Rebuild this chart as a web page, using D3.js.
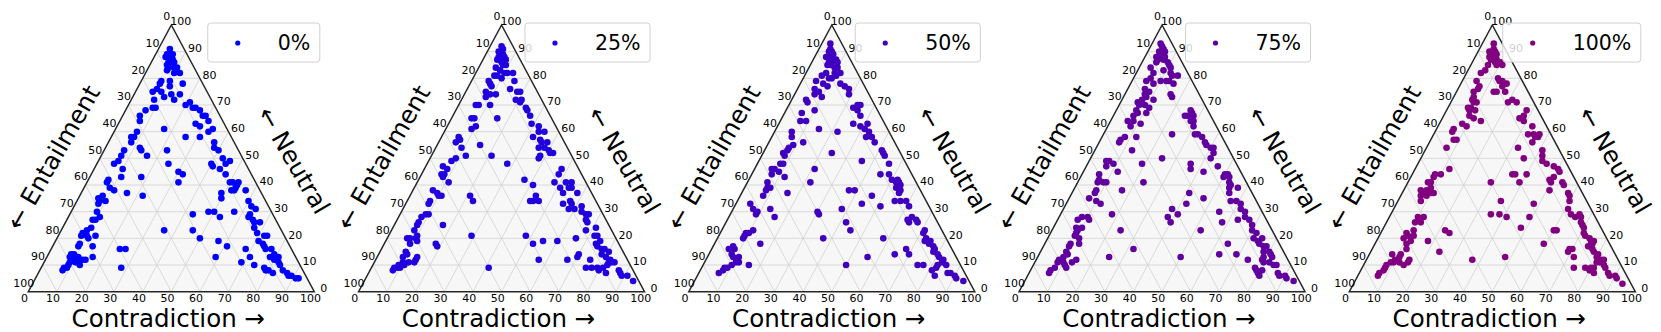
<!DOCTYPE html>
<html><head><meta charset="utf-8">
<script src="https://cdn.jsdelivr.net/npm/d3@7"></script>
<style>body{margin:0;background:#fff}svg{display:block}text{font-family:"DejaVu Sans",sans-serif;fill:#000}</style>
</head><body>
<svg id="c" width="1661" height="332"></svg>
<script>
const seriesNames = ["0%","25%","50%","75%","100%"];
const seriesColors = ["#0000ff","#2000df","#4000bf","#60009f","#800080"];
const tickValues = [0,10,20,30,40,50,60,70,80,90,100];
const titleBottom = "Contradiction \u2192";
const titleLeft = "\u2190 Entailment";
const titleRight = "\u2190 Neutral";

// each point: [contradiction %, neutral %]  (entailment = 100 - c - n)
const s0 = [[4,91],[5,89],[4,89],[6,89],[4,88],[6,87],[7,87],[6,86],[7,86],[8,86],[6,85],[7,84],[9,84],[10,84],[7,83],[12,82],[10,82],[7,79],[7,78],[10,79],[11,77],[15,78],[7,76],[9,75],[6,75],[11,73],[13,74],[16,74],[8,72],[10,69],[9,69],[15,72],[20,70],[21,71],[23,69],[24,69],[26,68],[7,68],[6,66],[7,64],[28,66],[29,66],[27,63],[29,62],[31,64],[34,61],[33,60],[31,58],[26,58],[17,61],[8,60],[8,58],[7,58],[8,56],[12,54],[13,53],[16,51],[7,53],[7,51],[7,49],[22,53],[25,48],[30,45],[32,44],[32,41],[18,43],[10,46],[11,43],[6,48],[7,42],[7,41],[9,39],[11,38],[8,36],[8,34],[7,35],[10,34],[8,33],[9,30],[16,37],[22,36],[37,56],[38,54],[40,53],[43,50],[45,48],[46,49],[40,48],[41,47],[44,46],[47,44],[50,41],[51,41],[53,39],[53,40],[53,41],[52,38],[53,38],[57,38],[50,35],[49,37],[60,34],[62,32],[64,31],[63,29],[63,28],[65,27],[66,26],[68,26],[50,30],[48,30],[53,28],[57,30],[43,29],[46,23],[50,20],[57,19],[61,17],[59,13],[68,16],[71,13],[69,11],[74,10],[71,19],[72,21],[73,21],[73,18],[74,17],[75,16],[77,16],[78,13],[79,14],[80,12],[80,13],[81,13],[82,11],[83,10],[78,9],[79,8],[80,8],[82,7],[85,8],[87,7],[88,6],[89,6],[91,5],[92,5],[67,24],[69,22],[8,8],[8,9],[9,9],[9,10],[9,11],[8,14],[9,14],[10,13],[11,13],[8,13],[10,12],[11,11],[12,11],[13,10],[13,12],[14,12],[9,17],[9,18],[8,21],[8,22],[10,21],[11,20],[13,21],[14,17],[16,13],[9,27],[10,27],[10,24],[9,23],[11,28],[24,16],[26,16],[28,9],[36,23]];
const s25 = [[4,92],[5,91],[4,90],[6,89],[5,88],[7,88],[5,87],[7,87],[8,87],[7,86],[8,85],[9,85],[6,84],[8,83],[10,82],[11,82],[13,82],[7,81],[8,81],[10,80],[15,79],[6,79],[7,78],[8,77],[7,75],[9,74],[11,74],[8,73],[15,76],[18,75],[19,75],[19,72],[21,71],[21,72],[11,70],[7,70],[6,70],[24,69],[25,68],[27,66],[16,65],[7,65],[8,65],[10,62],[9,61],[29,63],[32,62],[33,60],[35,60],[32,58],[35,57],[36,56],[38,56],[38,54],[40,53],[41,52],[42,52],[36,54],[38,51],[38,50],[6,58],[7,57],[6,56],[9,54],[15,55],[12,51],[9,50],[21,51],[28,48],[8,49],[8,46],[6,47],[7,44],[8,44],[8,43],[11,41],[7,38],[9,37],[10,36],[8,33],[8,34],[11,36],[9,29],[10,29],[8,28],[8,26],[8,25],[8,23],[8,20],[10,20],[10,21],[21,36],[23,34],[29,21],[17,25],[18,18],[19,17],[41,9],[37,42],[41,40],[44,36],[43,34],[44,34],[46,34],[48,21],[52,18],[55,19],[60,19],[57,12],[67,12],[70,13],[70,14],[66,20],[48,44],[48,46],[48,41],[51,39],[52,41],[54,41],[54,39],[55,39],[58,37],[53,37],[55,33],[57,34],[58,33],[58,31],[60,31],[62,32],[63,30],[65,29],[66,29],[66,27],[67,26],[71,24],[68,23],[72,21],[73,21],[75,19],[75,17],[77,16],[78,16],[80,15],[74,18],[78,14],[80,13],[82,12],[83,11],[82,11],[82,10],[84,11],[75,12],[75,9],[77,9],[79,9],[80,8],[83,7],[81,9],[87,8],[88,7],[89,6],[91,6],[94,4],[8,8],[8,9],[9,9],[10,9],[9,10],[10,11],[9,13],[10,14],[9,15],[11,10],[12,11],[14,11],[14,12],[14,13],[7,20],[9,18],[11,19]];
const s50 = [[3,93],[4,91],[4,90],[5,90],[5,89],[6,89],[4,88],[6,88],[8,87],[6,86],[7,86],[9,86],[6,85],[7,85],[9,84],[10,84],[7,82],[10,82],[12,82],[6,81],[9,80],[10,80],[11,81],[8,78],[10,77],[5,79],[6,76],[8,75],[10,73],[7,74],[14,78],[16,77],[18,76],[19,74],[5,72],[6,71],[10,68],[6,67],[7,64],[9,64],[23,69],[24,70],[25,70],[25,68],[27,66],[26,63],[29,62],[31,63],[33,60],[31,61],[33,58],[35,58],[37,56],[15,61],[22,60],[6,60],[7,58],[8,54],[8,53],[7,52],[9,55],[12,56],[8,51],[9,48],[8,48],[7,46],[6,46],[7,44],[9,45],[12,43],[21,46],[24,52],[36,49],[41,53],[42,52],[43,51],[46,48],[45,44],[48,44],[50,42],[52,42],[53,41],[52,41],[53,39],[54,40],[55,38],[55,37],[57,34],[55,34],[7,41],[8,39],[8,38],[8,36],[9,39],[16,37],[22,41],[37,38],[39,38],[46,36],[44,33],[51,32],[38,31],[30,30],[31,29],[13,31],[16,28],[5,33],[7,31],[9,30],[9,29],[59,34],[61,32],[64,28],[66,27],[63,27],[64,26],[67,26],[71,23],[71,22],[73,20],[73,19],[75,19],[75,18],[77,17],[78,16],[78,15],[80,14],[81,13],[83,12],[83,11],[85,10],[82,10],[82,9],[81,8],[83,6],[75,10],[77,10],[68,16],[70,14],[65,14],[58,20],[56,13],[42,26],[45,23],[50,10],[37,20],[87,7],[88,7],[90,6],[91,5],[94,4],[9,22],[9,21],[9,20],[16,18],[16,10],[7,17],[6,16],[8,16],[8,14],[9,13],[11,13],[12,11],[11,11],[10,10],[9,9],[8,9],[8,8],[7,7],[10,22],[11,23]];
const s75 = [[3,93],[4,92],[5,91],[4,90],[6,90],[5,89],[4,88],[7,88],[6,88],[5,87],[7,87],[9,86],[5,86],[10,85],[11,84],[9,83],[12,82],[4,84],[6,82],[6,80],[10,79],[12,79],[13,79],[13,81],[15,81],[15,78],[5,79],[8,78],[6,76],[7,75],[8,75],[7,74],[8,73],[11,72],[16,74],[17,73],[7,72],[6,71],[7,70],[9,70],[11,69],[7,68],[8,67],[11,67],[7,66],[8,64],[6,64],[8,62],[11,63],[8,58],[7,57],[7,56],[12,58],[13,53],[24,59],[26,68],[26,66],[27,67],[28,66],[29,64],[28,64],[25,66],[30,62],[32,59],[33,59],[35,58],[37,56],[38,55],[40,54],[41,54],[42,52],[42,50],[36,48],[37,46],[42,45],[25,50],[19,48],[23,41],[7,49],[9,48],[12,45],[6,49],[7,47],[6,44],[7,42],[9,41],[7,41],[10,41],[8,38],[8,37],[7,35],[10,34],[12,33],[17,38],[18,29],[24,23],[32,16],[25,13],[8,28],[10,28],[11,27],[10,24],[9,23],[9,22],[9,21],[11,20],[12,18],[9,17],[9,15],[10,14],[9,13],[9,12],[8,12],[8,11],[8,9],[7,8],[7,7],[10,11],[13,11],[14,12],[12,9],[11,10],[7,27],[8,24],[38,31],[38,28],[40,26],[41,29],[41,37],[42,33],[52,23],[47,35],[46,47],[50,44],[51,44],[50,43],[52,43],[53,41],[54,40],[54,39],[55,37],[57,39],[57,34],[59,34],[61,33],[62,31],[64,30],[55,30],[58,26],[63,27],[65,28],[67,27],[69,25],[70,23],[72,22],[72,20],[74,19],[75,20],[75,18],[77,17],[78,17],[78,15],[80,15],[81,14],[82,13],[85,10],[84,10],[82,11],[79,12],[79,13],[80,11],[78,9],[79,8],[80,7],[81,6],[81,8],[64,18],[69,14],[63,14],[74,12],[50,13],[87,7],[88,6],[90,6],[91,5],[94,4],[9,18]];
const s100 = [[4,93],[5,91],[4,90],[6,90],[5,89],[7,89],[5,88],[7,88],[8,87],[6,87],[8,86],[10,86],[6,85],[9,85],[11,85],[6,83],[5,82],[5,79],[7,77],[7,76],[6,75],[7,73],[7,72],[8,71],[7,69],[8,68],[8,69],[10,68],[9,71],[9,66],[14,64],[11,65],[12,80],[13,79],[14,79],[16,78],[15,77],[13,75],[14,75],[17,75],[20,71],[21,72],[23,71],[27,65],[28,65],[28,66],[28,68],[29,64],[33,62],[33,59],[35,59],[36,58],[37,58],[37,59],[36,56],[41,53],[42,51],[43,49],[45,48],[48,47],[50,46],[51,45],[50,43],[49,42],[50,41],[54,41],[55,40],[51,38],[58,37],[59,36],[60,34],[61,31],[63,29],[65,28],[66,29],[67,28],[68,26],[69,25],[70,24],[71,22],[72,21],[74,20],[75,19],[76,19],[76,18],[75,17],[77,16],[78,15],[80,14],[80,13],[82,12],[83,12],[82,11],[85,9],[84,10],[81,11],[81,9],[82,7],[80,8],[80,9],[78,9],[74,9],[72,13],[69,15],[69,16],[70,16],[60,23],[61,23],[59,18],[32,54],[36,50],[36,44],[39,41],[35,44],[40,44],[48,33],[49,28],[48,24],[41,28],[36,34],[29,41],[35,29],[38,29],[48,13],[37,12],[24,15],[22,23],[24,22],[18,19],[8,63],[10,62],[6,61],[6,60],[9,57],[8,57],[7,54],[12,46],[10,44],[8,44],[8,43],[8,41],[7,41],[9,39],[8,38],[8,37],[7,36],[9,36],[10,37],[11,37],[6,38],[8,34],[10,28],[12,26],[10,26],[12,28],[11,23],[12,21],[10,21],[12,19],[9,22],[9,20],[11,18],[12,16],[11,14],[11,13],[10,12],[10,11],[9,11],[8,10],[8,9],[8,8],[7,7],[7,6],[12,11],[14,10],[15,11],[15,12],[8,14],[87,7],[88,6],[90,6],[91,5],[94,3]];
const allSeries = [s0, s25, s50, s75, s100];

const svg = d3.select("#c");
const W = 286, baseY = 291.7, apexY = 25, left0 = 28.3, step = 330.25;
const rotDeg = 60;

seriesNames.forEach((name, i) => {
  const x0 = left0 + i * step;
  const xs = d3.scaleLinear().domain([0, 100]).range([x0, x0 + W]);
  const ys = d3.scaleLinear().domain([0, 100]).range([baseY, apexY]);
  const P = (c, n) => [xs(c + n / 2), ys(n)];
  const g = svg.append("g");
  const tri = [P(0, 0), P(100, 0), P(0, 100)];

  g.append("path").attr("d", d3.line()(tri) + "Z").attr("fill", "#f7f7f7");

  const gl = [];
  for (let k = 10; k < 100; k += 10) {
    gl.push([P(0, k), P(100 - k, k)]);
    gl.push([P(k, 0), P(k, 100 - k)]);
    gl.push([P(100 - k, 0), P(0, 100 - k)]);
  }
  g.selectAll("line.grid").data(gl).join("line").attr("class", "grid")
    .attr("x1", d => d[0][0]).attr("y1", d => d[0][1])
    .attr("x2", d => d[1][0]).attr("y2", d => d[1][1])
    .attr("stroke", "#d2d2d2").attr("stroke-width", 0.8);

  g.append("path").attr("d", d3.line()(tri) + "Z").attr("fill", "none")
    .attr("stroke", "#262626").attr("stroke-width", 1.5);

  // tick labels
  g.selectAll("text.tb").data(tickValues).join("text").attr("class", "tb")
    .attr("x", k => P(k, 0)[0] - 3.8).attr("y", baseY + 6).attr("dy", "0.36em")
    .attr("text-anchor", "middle").attr("font-size", 11).text(k => k);
  g.selectAll("text.tl").data(tickValues).join("text").attr("class", "tl")
    .attr("x", k => P(0, 100 - k)[0] - 4.5).attr("y", k => P(0, 100 - k)[1] - 8.5).attr("dy", "0.36em")
    .attr("text-anchor", "middle").attr("font-size", 11).text(k => k);
  g.selectAll("text.tr").data(tickValues).join("text").attr("class", "tr")
    .attr("x", k => P(100 - k, k)[0] + 9.5).attr("y", k => P(100 - k, k)[1] - 3.5).attr("dy", "0.36em")
    .attr("text-anchor", "middle").attr("font-size", 11).text(k => k);

  // axis titles
  g.append("text").attr("x", x0 + 140).attr("y", 327.3).attr("text-anchor", "middle")
    .attr("font-size", 24.5).text(titleBottom);
  g.append("text").attr("transform", `translate(${x0 + 24.5},157.3) rotate(${-rotDeg})`)
    .attr("text-anchor", "middle").attr("dy", "0.36em").attr("font-size", 24.5).text(titleLeft);
  g.append("text").attr("transform", `translate(${x0 + 265.7},160) rotate(${rotDeg})`)
    .attr("text-anchor", "middle").attr("dy", "0.36em").attr("font-size", 24.5).text(titleRight);

  // points
  g.selectAll("circle.pt").data(allSeries[i]).join("circle").attr("class", "pt")
    .attr("cx", d => P(d[0], d[1])[0]).attr("cy", d => P(d[0], d[1])[1])
    .attr("r", 3.3).attr("fill", seriesColors[i]);

  // legend
  const boxRight = x0 + 291.5;
  const lg = g.append("g");
  const box = lg.append("rect");
  const t = lg.append("text").attr("x", boxRight - 9.5).attr("y", 49.5)
    .attr("text-anchor", "end").attr("font-size", 20.5).text(name);
  const tw = t.node().getComputedTextLength();
  const mx = boxRight - 9.5 - tw - 40;
  lg.append("circle").attr("cx", mx).attr("cy", 43).attr("r", 2.6).attr("fill", seriesColors[i]);
  box.attr("x", mx - 30).attr("y", 23).attr("width", boxRight - (mx - 30)).attr("height", 39)
    .attr("rx", 3).attr("fill", "#fff").attr("fill-opacity", 0.8)
    .attr("stroke", "#d0d0d0").attr("stroke-width", 1);
});
</script>
</body></html>
